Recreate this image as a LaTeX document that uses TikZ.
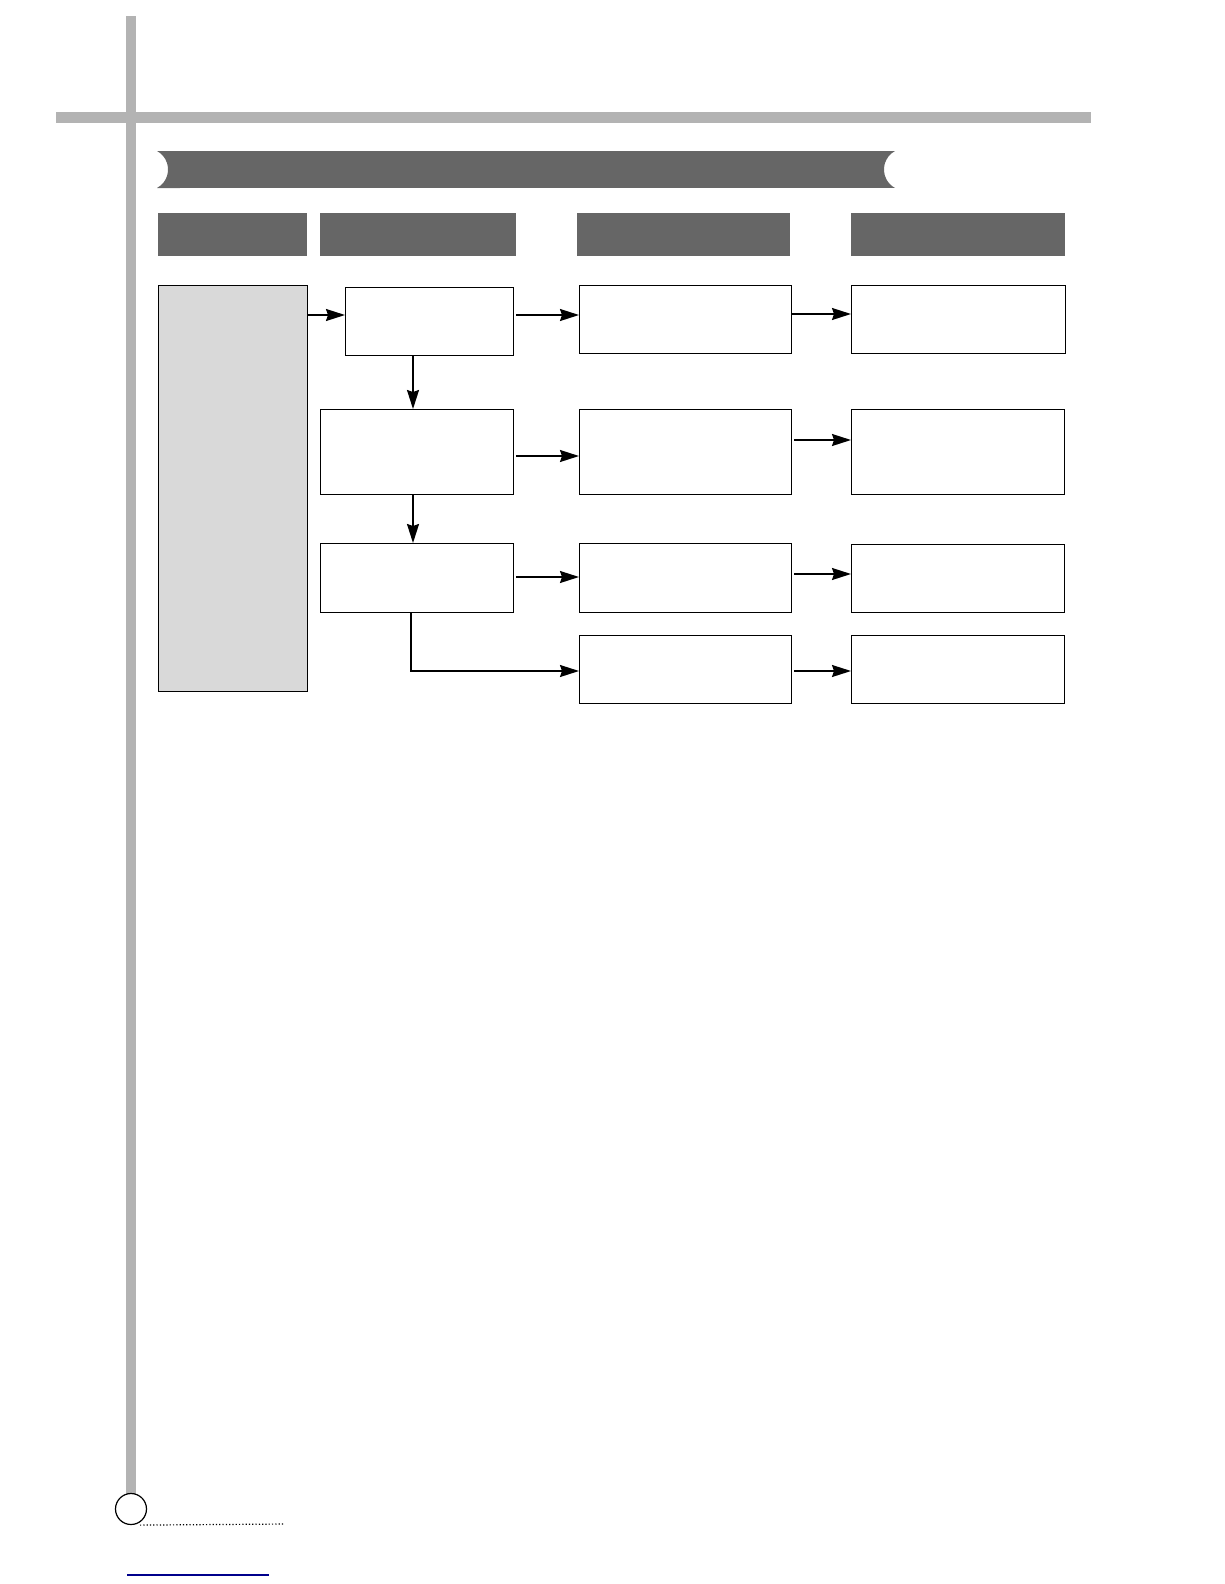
\documentclass[tikz,border=0pt]{standalone}
\usetikzlibrary{arrows.meta}
\definecolor{bargray}{HTML}{B3B3B3}
\definecolor{darkhead}{HTML}{666666}
\definecolor{lightfill}{HTML}{D9D9D9}
\definecolor{linkblue}{HTML}{00008C}
\tikzset{
  flowbox/.style={draw=black, line width=1.2pt, fill=white, inner sep=0pt, anchor=north west},
  sidebox/.style={flowbox, fill=lightfill},
  headbox/.style={fill=darkhead, draw=none, inner sep=0pt, anchor=north west},
  arr/.style={line width=1.7pt, -{Stealth[length=19pt,width=12pt,inset=2pt]}},
}
\begin{document}
\begin{tikzpicture}[x=1pt,y=-1pt]
\useasboundingbox (0,0) rectangle (1224,1584);
% frame bars
\fill[bargray] (126,16) rectangle (136,1494);
\fill[bargray] (56,112) rectangle (1091,123);
% title bar
\fill[darkhead] (157,151) -- (895,151) arc[start angle=118.3,end angle=241.7,radius=21pt] -- (157,188) arc[start angle=-61.7,end angle=61.7,radius=21pt] -- cycle;
% headers
\node[headbox, minimum width=149pt, minimum height=43pt] (h1) at (158,213) {};
\node[headbox, minimum width=196pt, minimum height=43pt] (h2) at (320,213) {};
\node[headbox, minimum width=213pt, minimum height=43pt] (h3) at (577,213) {};
\node[headbox, minimum width=214pt, minimum height=43pt] (h4) at (851,213) {};
% boxes
\node[sidebox, minimum width=149pt, minimum height=406pt] (G) at (158,285) {};
\node[flowbox, minimum width=168pt, minimum height=68pt] (A) at (345,287) {};
\node[flowbox, minimum width=193pt, minimum height=85pt] (B) at (320,409) {};
\node[flowbox, minimum width=193pt, minimum height=69pt] (C) at (320,543) {};
\node[flowbox, minimum width=212pt, minimum height=68pt] (P1) at (579,285) {};
\node[flowbox, minimum width=212pt, minimum height=85pt] (P2) at (579,409) {};
\node[flowbox, minimum width=212pt, minimum height=69pt] (P3) at (579,543) {};
\node[flowbox, minimum width=212pt, minimum height=68pt] (P4) at (579,635) {};
\node[flowbox, minimum width=214pt, minimum height=68pt] (Q1) at (851,285) {};
\node[flowbox, minimum width=213pt, minimum height=85pt] (Q2) at (851,409) {};
\node[flowbox, minimum width=213pt, minimum height=68pt] (Q3) at (851,544) {};
\node[flowbox, minimum width=213pt, minimum height=68pt] (Q4) at (851,635) {};
% connectors
\draw[arr] (G.east |- 0,315) -- (A.west |- 0,315);
\draw[arr] ([xshift=2pt]A.east |- 0,315) -- (P1.west |- 0,315);
\draw[arr] (A.south -| 413,0) -- (B.north -| 413,0);
\draw[arr] ([xshift=2pt]B.east |- 0,456) -- (P2.west |- 0,456);
\draw[arr] (B.south -| 413,0) -- (C.north -| 413,0);
\draw[arr] ([xshift=2pt]C.east |- 0,577) -- (P3.west |- 0,577);
\draw[arr] (C.south -| 411,0) -- (411,671) -- (P4.west |- 0,671);
\draw[arr] (P1.east |- 0,314) -- (Q1.west |- 0,314);
\draw[arr] ([xshift=2pt]P2.east |- 0,440) -- (Q2.west |- 0,440);
\draw[arr] ([xshift=2pt]P3.east |- 0,574) -- (Q3.west |- 0,574);
\draw[arr] ([xshift=2pt]P4.east |- 0,671) -- (Q4.west |- 0,671);
% page footer marks
\node[circle, draw=black, line width=1.2pt, fill=white, minimum size=31pt, inner sep=0pt] (pg) at (131,1509) {};
\coordinate (dotend) at (285,1524);
\draw[line width=1.2pt, dash pattern=on 1.2pt off 2.1pt] (pg.south -| 140,0) -- (dotend);
\coordinate (bl1) at (127,1575);
\coordinate (bl2) at (269,1575);
\draw[linkblue, line width=1.3pt] (bl1) -- (bl2);
\end{tikzpicture}
\end{document}
